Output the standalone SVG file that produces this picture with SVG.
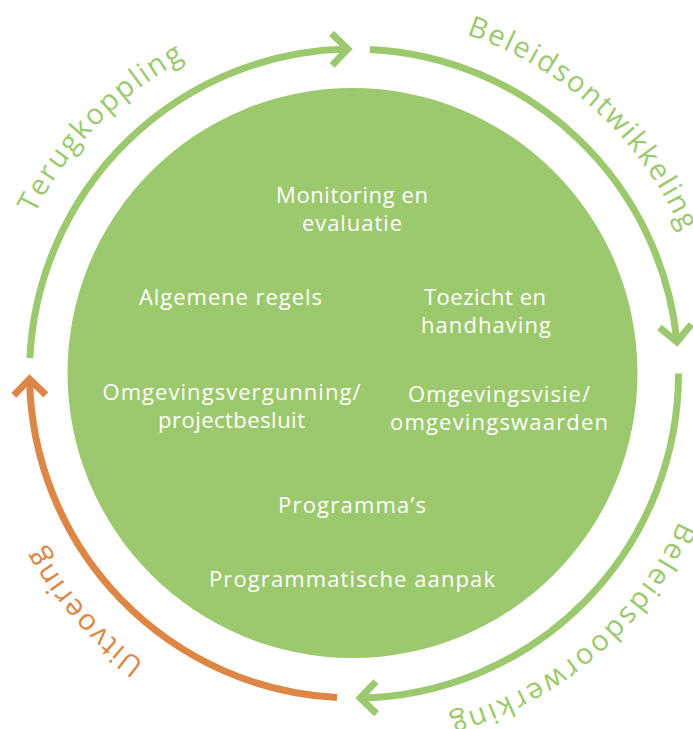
<svg xmlns="http://www.w3.org/2000/svg" xmlns:xlink="http://www.w3.org/1999/xlink" width="693" height="729" viewBox="0 0 693 729">
<style>
.ring{fill:none;stroke-width:7;stroke-linecap:butt}
.g{stroke:#9dc96e}
.o{stroke:#de8645}
.lbl{font-family:"Open Sans","Liberation Sans",sans-serif;font-size:29px}
.in{font-family:"Open Sans","Liberation Sans",sans-serif;font-size:22px;fill:#ffffff;text-anchor:middle}
</style>
<defs>
<path id="tp" d="M-3,373.5 A357,357 0 1 1 711,373.5 A357,357 0 1 1 -3,373.5"/>
<marker id="ag" markerUnits="userSpaceOnUse" orient="auto" refX="0" refY="0" markerWidth="40" markerHeight="40" overflow="visible">
<path d="M-16,-16 L0,0 L-16,16" fill="none" stroke="#9dc96e" stroke-width="7" stroke-linejoin="miter"/>
</marker>
<marker id="ao" markerUnits="userSpaceOnUse" orient="auto" refX="0" refY="0" markerWidth="40" markerHeight="40" overflow="visible">
<path d="M-16,-16 L0,0 L-16,16" fill="none" stroke="#de8645" stroke-width="7" stroke-linejoin="miter"/>
</marker>
</defs>
<g id="core">
<circle cx="352.5" cy="373" r="285" fill="#9dc96e"/>
</g>
<g id="connectors">
<path id="terugkoppling" class="ring g" d="M29.86,358.21 A324.5,324.5 0 0 1 347.77,49.06" marker-end="url(#ag)"/>
<path id="beleidsontwikkeling" class="ring g" d="M369.85,49.39 A324.5,324.5 0 0 1 676.95,341.84" marker-end="url(#ag)"/>
<path id="beleidsdoorwerking" class="ring g" d="M678.5,373.5 A324.5,324.5 0 0 1 360.23,697.94" marker-end="url(#ag)"/>
<path id="uitvoering" class="ring o" d="M337.02,697.56 A324.5,324.5 0 0 1 29.55,379.16" marker-end="url(#ao)"/>
</g>
<g id="ring-labels">
<text class="lbl" fill="#9dc96e"><textPath xlink:href="#tp" href="#tp" startOffset="165.1" textLength="218.7" lengthAdjust="spacing">Terugkoppling</textPath></text>
<text class="lbl" fill="#9dc96e"><textPath xlink:href="#tp" href="#tp" startOffset="674.8" textLength="300.3" lengthAdjust="spacing">Beleidsontwikkeling</textPath></text>
<text class="lbl" fill="#9dc96e"><textPath xlink:href="#tp" href="#tp" startOffset="1273" textLength="312.2" lengthAdjust="spacing">Beleidsdoorwerking</textPath></text>
<text class="lbl" fill="#de8645"><textPath xlink:href="#tp" href="#tp" startOffset="1905.4" textLength="156.4" lengthAdjust="spacing">Uitvoering</textPath></text>
</g>
<g id="node-monitoring"><text class="in" x="352" y="203" textLength="152" lengthAdjust="spacing">Monitoring en</text><text class="in" x="352" y="231" textLength="100" lengthAdjust="spacing">evaluatie</text></g>
<g id="node-algemene-regels"><text class="in" x="230.5" y="305" textLength="183" lengthAdjust="spacing">Algemene regels</text></g>
<g id="node-toezicht"><text class="in" x="485" y="305" textLength="122" lengthAdjust="spacing">Toezicht en</text><text class="in" x="486" y="333" textLength="130" lengthAdjust="spacing">handhaving</text></g>
<g id="node-omgevingsvergunning"><text class="in" x="231.5" y="400" textLength="258" lengthAdjust="spacing">Omgevingsvergunning/</text><text class="in" x="231.5" y="428" textLength="147" lengthAdjust="spacing">projectbesluit</text></g>
<g id="node-omgevingsvisie"><text class="in" x="499" y="402" textLength="182" lengthAdjust="spacing">Omgevingsvisie/</text><text class="in" x="499" y="430" textLength="218" lengthAdjust="spacing">omgevingswaarden</text></g>
<g id="node-programmas"><text class="in" x="352" y="513" textLength="148" lengthAdjust="spacing">Programma’s</text></g>
<g id="node-programmatische-aanpak"><text class="in" x="352" y="587" textLength="286" lengthAdjust="spacing">Programmatische aanpak</text></g>
</svg>
